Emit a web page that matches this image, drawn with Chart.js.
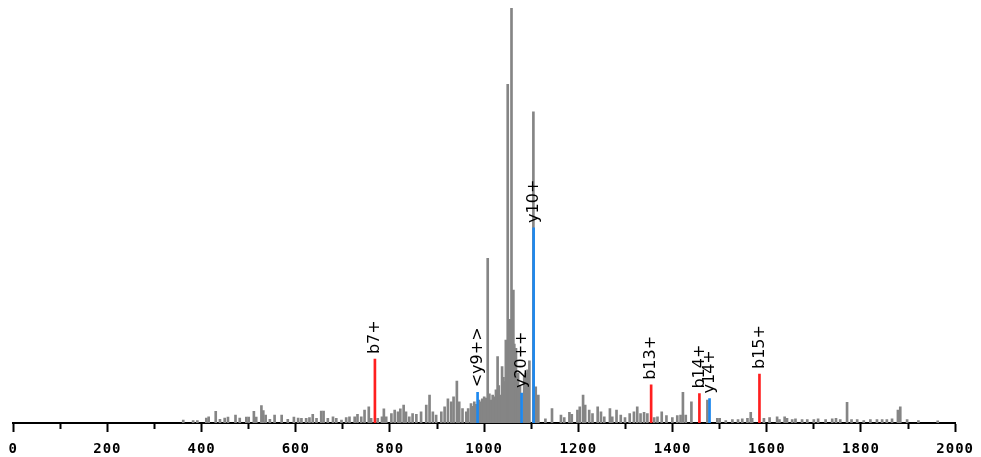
<!DOCTYPE html>
<html>
<head>
<meta charset="utf-8">
<script src="https://cdn.jsdelivr.net/npm/chart.js@4.4.1/dist/chart.umd.min.js"></script>
<style>
  html, body { margin: 0; padding: 0; background: #fff; }
  #wrap { width: 981px; height: 457px; }
</style>
</head>
<body>
<div id="wrap"><canvas id="spectrum" width="981" height="457"></canvas></div>
<script>
// unannotated peaks (m/z, relative intensity %)
const peakMz = [
  361, 382, 391, 410, 415, 430, 439, 449, 456, 472, 481, 495, 500, 511, 516, 527, 531, 536, 545, 555,
  570, 583, 596, 605, 612, 622, 629, 636, 644, 654, 659, 668, 679, 686, 697, 707, 714, 725, 731, 739,
  746, 755, 760, 774, 783, 787, 792, 803, 810, 817, 822, 829, 834, 841, 848, 856, 866, 877, 884, 891,
  898, 909, 916, 923, 930, 935, 942, 947, 954, 962, 966, 972, 975, 979, 983, 989, 993, 996, 1000, 1004,
  1007.5, 1011, 1014.5, 1018, 1021.5, 1025, 1028.5, 1031, 1034, 1038, 1041, 1043, 1046, 1050, 1053, 1055, 1058, 1062, 1064, 1067.5,
  1072, 1076, 1085, 1088, 1092, 1096, 1104.5, 1109.5, 1115, 1130, 1144, 1163, 1170, 1181, 1186, 1198, 1203, 1210, 1214.5, 1223,
  1230, 1241, 1248, 1255, 1267, 1272, 1281, 1290, 1299, 1309, 1318, 1325, 1332, 1339.5, 1346.5, 1361, 1368, 1377, 1387, 1399.5,
  1410, 1417, 1422, 1428, 1440, 1474, 1495, 1500, 1513, 1527, 1539, 1548, 1559, 1566, 1569, 1594, 1606, 1622, 1627, 1638,
  1643, 1654, 1661, 1675, 1686, 1700, 1709, 1725, 1739, 1747, 1756, 1770.5, 1780, 1792, 1806, 1820, 1834, 1845, 1855, 1866,
  1878.5, 1883.5, 1898, 1922, 1963
];
const peakIntensity = [
  0.7, 0.6, 0.6, 1.2, 1.5, 2.8, 0.9, 1.2, 1.4, 1.9, 1.2, 1.4, 1.4, 2.8, 1.4, 4.2, 3.0, 1.9, 0.9, 1.9,
  1.9, 0.9, 1.4, 1.2, 1.1, 1.1, 1.3, 2.1, 1.1, 2.9, 2.9, 1.1, 1.5, 1.1, 0.7, 1.3, 1.5, 1.5, 2.1, 1.5,
  3.1, 3.9, 1.1, 1.1, 1.5, 3.4, 1.5, 2.3, 3.1, 2.7, 3.4, 4.3, 2.7, 1.5, 2.3, 2.1, 2.7, 4.3, 6.7, 2.7,
  1.9, 2.7, 3.9, 5.8, 5.1, 6.3, 10.1, 5.1, 3.5, 2.7, 3.5, 4.7, 4.0, 5.1, 4.5, 5.5, 5.1, 5.8, 6.3, 6.0,
  39.7, 7.0, 5.5, 6.7, 6.3, 8.0, 16.0, 9.0, 6.7, 13.6, 11.0, 10.0, 20.0, 81.6, 22.0, 25.0, 100, 32.0, 19.0, 18.0,
  12.0, 9.0, 11.2, 12.0, 12.8, 15.0, 75.0, 8.7, 6.7, 1.0, 3.5, 1.9, 1.3, 2.6, 2.1, 3.1, 3.9, 6.7, 4.3, 3.1,
  2.3, 3.9, 2.7, 1.5, 3.5, 1.5, 3.1, 1.9, 1.3, 2.3, 2.7, 3.9, 2.3, 2.6, 2.3, 1.3, 1.5, 2.7, 1.8, 1.3,
  1.8, 1.9, 7.4, 1.9, 5.1, 5.5, 1.1, 1.1, 0.6, 0.8, 0.8, 1.0, 1.1, 2.6, 1.1, 1.1, 1.3, 1.5, 0.8, 1.5,
  1.1, 0.8, 1.0, 0.8, 0.8, 0.8, 1.0, 0.8, 1.0, 1.1, 0.8, 5.0, 0.8, 0.8, 0.6, 0.8, 0.8, 0.8, 0.8, 1.0,
  3.1, 3.9, 0.8, 0.6, 0.5
];

// annotated b ions (red)
const bIonMz = [768, 1354.5, 1457, 1584.5];
const bIonIntensity = [15.4, 9.2, 7.1, 11.8];
const bIonLabels = ['b7+', 'b13+', 'b14+', 'b15+'];

// annotated y ions (blue)
const yIonMz = [986, 1079.5, 1105, 1478.5];
const yIonIntensity = [7.4, 7.2, 47, 5.9];
const yIonLabels = ['<y9+>', 'y20++', 'y10+', 'y14+'];

const toPoints = (xs, ys) => xs.map((x, i) => ({ x: x, y: ys[i] }));

// spaced-out axis digits, plain text for the ion labels
const letterSpacing = {
  id: 'letterSpacing',
  beforeDraw(chart) {
    chart.ctx.letterSpacing = '1px';
  }
};

const ionLabels = {
  id: 'ionLabels',
  afterDatasetsDraw(chart) {
    const ctx = chart.ctx;
    ctx.save();
    ctx.letterSpacing = '0px';
    ctx.font = '16px "DejaVu Sans"';
    ctx.fillStyle = '#000';
    ctx.textAlign = 'left';
    ctx.textBaseline = 'middle';
    chart.data.datasets.forEach((ds, i) => {
      if (!ds.ionLabels) return;
      chart.getDatasetMeta(i).data.forEach((bar, j) => {
        ctx.save();
        ctx.translate(bar.x, bar.y - 5);
        ctx.rotate(-Math.PI / 2);
        ctx.fillText(ds.ionLabels[j], 0, 0);
        ctx.restore();
      });
    });
    ctx.restore();
  }
};

const barStyle = { barThickness: 2, grouped: false, borderWidth: 0 };

// every 100 gets a tick, only every 200 a long one with a label
const isMajor = v => v % 200 === 0;

new Chart(document.getElementById('spectrum'), {
  type: 'bar',
  data: {
    datasets: [
      Object.assign({ label: 'b', data: toPoints(bIonMz, bIonIntensity), backgroundColor: '#ff1f1f', ionLabels: bIonLabels, order: 1 }, barStyle),
      Object.assign({ label: 'y', data: toPoints(yIonMz, yIonIntensity), backgroundColor: '#1e88ee', ionLabels: yIonLabels, order: 1 }, barStyle),
      Object.assign({ label: 'peaks', data: toPoints(peakMz, peakIntensity), backgroundColor: '#858585', order: 2 }, barStyle)
    ]
  },
  options: {
    responsive: false,
    animation: false,
    layout: { padding: { left: 13, right: 24, top: 8, bottom: 0 } },
    plugins: {
      legend: { display: false },
      tooltip: { enabled: false }
    },
    scales: {
      x: {
        type: 'linear',
        min: 0,
        max: 2000,
        offset: false,
        z: 1,
        afterFit: s => { s.height = 34; },
        ticks: {
          stepSize: 100,
          autoSkip: false,
          padding: 9,
          color: '#000',
          maxRotation: 0,
          font: { family: '"DejaVu Sans Mono"', size: 14, weight: 'bold' },
          callback: v => isMajor(v) ? String(v) : ''
        },
        grid: {
          offset: false,
          drawOnChartArea: false,
          tickLength: 9,
          tickWidth: 2,
          tickColor: '#000',
          tickBorderDash: ctx => (ctx.tick && isMajor(ctx.tick.value)) ? [] : [5, 20]
        },
        border: { display: true, color: '#000', width: 2 }
      },
      y: {
        display: false,
        min: 0,
        max: 100
      }
    }
  },
  plugins: [letterSpacing, ionLabels]
});
</script>
</body>
</html>
